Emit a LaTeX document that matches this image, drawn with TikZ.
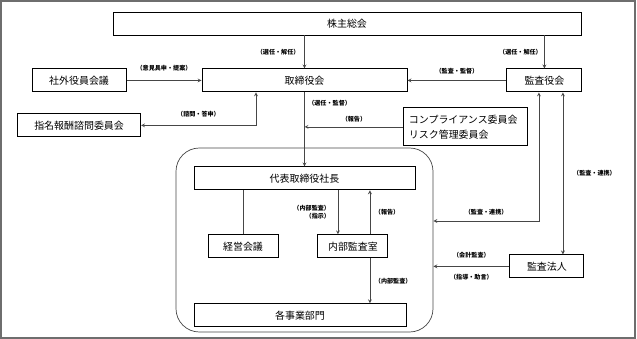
\documentclass[tikz,border=0pt]{standalone}
\usepackage{fontspec}
\setmainfont{Noto Sans CJK JP}
\usepackage{tikz}
\usetikzlibrary{arrows,positioning,calc}
\definecolor{linegray}{RGB}{70,70,70}
\definecolor{framegray}{RGB}{110,110,110}

\begin{document}
\begin{tikzpicture}[
    >=stealth,
    every node/.style={font=\fontsize{8.5}{12.8}\selectfont},
    box/.style={rectangle, draw=black, line width=0.8pt, align=center, inner sep=0pt, minimum height=0.69cm},
    groupbox/.style={rectangle, draw=linegray, line width=0.6pt, rounded corners=0.7cm},
    lbl/.style={inner sep=1pt, font=\fontsize{5.2}{6.4}\selectfont\bfseries},
    conn/.style={draw=linegray, line width=0.5pt}
]

    \useasboundingbox (0,0) rectangle (19.11,-10.17);
    \draw[framegray, line width=1.2pt] (0.03,-0.03) rectangle (19.05,-10.14);

    \node (soukai) [box, minimum width=14.04cm] at (10.41,-0.705) {株主総会};
    \node (torishimari) [box, minimum width=6.15cm, below=0.99cm of soukai, xshift=-1.275cm] {取締役会};
    \node (shagai) [box, minimum width=2.82cm, left=2.25cm of torishimari] {社外役員会議};
    \node (kansayaku) [box, minimum width=2.25cm, right=2.97cm of torishimari] {監査役会};
    \node (shimei) [box, minimum width=3.69cm, below=0.63cm of shagai] {指名報酬諮問委員会};
    \node (comp) [box, text width=3.42cm, inner xsep=0.15cm, align=left, minimum height=1.14cm, below=0.45cm of kansayaku, xshift=-2.355cm] {コンプライアンス委員会\\リスク管理委員会};
    \node (grp) [groupbox, minimum width=7.71cm, minimum height=5.52cm] at (9.135,-7.2) {};
    \node (daihyo) [box, minimum width=6.63cm, below=2.22cm of torishimari] {代表取締役社長};
    \node (keiei) [box, minimum width=2.1cm, below=1.32cm of daihyo, xshift=-1.845cm] {経営会議};
    \node (naibu) [box, minimum width=2.1cm, right=1.17cm of keiei] {内部監査室};
    \node (jigyo) [box, minimum width=6.36cm, below=1.35cm of keiei, xshift=1.71cm] {各事業部門};
    \node (kansahojin) [box, minimum width=2.22cm, below=4.86cm of kansayaku, xshift=0.075cm] {監査法人};

    \coordinate (ka) at ([xshift=-0.165cm]kansayaku.south);
    \coordinate (kb) at ([xshift=0.555cm]kansayaku.south);
    \coordinate (na) at ([xshift=-0.45cm]naibu.north);
    \coordinate (nb) at ([xshift=0.51cm]naibu.north);
    \coordinate (nc) at ([xshift=0.51cm]naibu.south);

    \draw[conn, ->] (soukai.south -| torishimari.north) -- node[lbl, left=3pt] (l1) {（選任・解任）} (torishimari.north);
    \draw[conn, ->] (torishimari.south) -- node[lbl, right=2pt, pos=0.15] (l2) {（選任・監督）} (torishimari.south |- daihyo.north);
    \draw[conn, ->] (shagai) -- node[lbl, above=6.5pt] (l3) {（意見具申・提案）} (torishimari);
    \draw[conn, ->] (soukai.south -| kansayaku.north) -- node[lbl, left=1pt] (l4) {（選任・解任）} (kansayaku.north);
    \draw[conn, ->] (kansayaku) -- node[lbl, above=4.4pt] (l5) {（監査・監督）} (torishimari);
    \draw[conn, <->] (shimei.east) -| node[lbl, above=5.4pt, pos=0.25] (l6) {（諮問・答申）} ([xshift=-1.455cm]torishimari.south);
    \draw[conn, ->] (comp.west) -- node[lbl, above=3.2pt] (l7) {（報告）} (comp.west -| torishimari.south);
    \draw[conn, <->] (ka) |- node[lbl, above=4pt, pos=0.75] (l8) {（監査・連携）} ([yshift=0.57cm]grp.east);
    \draw[conn, <->] (kb) -- node[lbl, right=7.5pt] (l9) {（監査・連携）} (kb |- kansahojin.north);
    \draw[conn, ->] (kansahojin.west) -- node[lbl, above=5.5pt] (l10) {（会計監査）} node[lbl, below=5.5pt] (l11) {（指導・助言）} (kansahojin.west -| grp.east);

    \draw[conn] (keiei.north) -- (keiei.north |- daihyo.south);
    \draw[conn, ->] (na |- daihyo.south) -- node[lbl, left=5.5pt, align=right] (l12) {（内部監査）\\（指示）} (na);
    \draw[conn, ->] (nb) -- node[lbl, right=3pt] (l13) {（報告）} (nb |- daihyo.south);
    \draw[conn, ->] (nc) -- node[lbl, right=3pt] (l14) {（内部監査）} (nc |- jigyo.north);

\end{tikzpicture}
\end{document}
